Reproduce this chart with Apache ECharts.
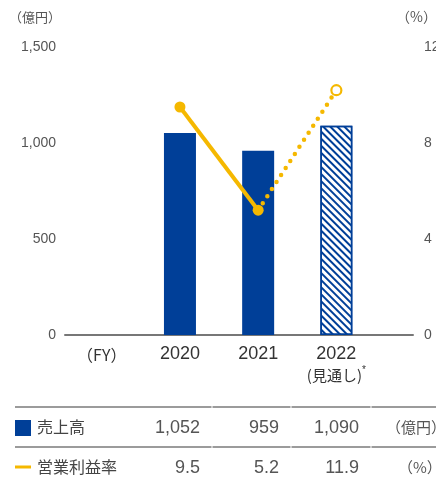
<!DOCTYPE html>
<html><head><meta charset="utf-8">
<script src="https://cdn.jsdelivr.net/npm/echarts@6/dist/echarts.min.js"></script>
<style>html,body{margin:0;padding:0;background:#fff}#c{width:436px;height:482px}</style>
</head><body><div id="c"></div>
<script>
// ---- data ----
const categories = ['（FY）', '2020', '2021', '2022'];
const categoryNote = '(見通し)';
const salesValues = [1052, 959, 1090];          // 2020, 2021, 2022(forecast)
const marginValues = [9.5, 5.2, 10.2];           // plotted positions
const salesText = ['1,052', '959', '1,090'];
const marginText = ['9.5', '5.2', '11.9'];
const leftTicks = [0, 500, 1000, 1500];
const rightTicks = [0, 4, 8, 12];
const rowLabels = ['売上高', '営業利益率'];
const rowUnits = ['（億円）', '（%）'];

const NAVY = '#003f98', YELLOW = '#f5b800';
const FONT = '"Liberation Sans", "Noto Sans CJK JP", sans-serif';
const CJK = '"Noto Sans CJK JP", "Liberation Sans", sans-serif';

const chart = echarts.init(document.getElementById('c'), null, {renderer: 'canvas'});

const barData = salesValues.map((v, i) => {
  const item = {value: [i + 1, v]};
  if (i === 2) {
    item.itemStyle = {
      color: '#ffffff', borderColor: NAVY, borderWidth: 1.5,
      decal: {symbol: 'rect', symbolSize: 1, color: NAVY, dashArrayX: [1, 0], dashArrayY: [1.6, 3], rotation: Math.PI / 4}
    };
  }
  return item;
});

const solidData = [[1, marginValues[0]], [2, marginValues[1]]];
const dottedData = [
  {value: [2, marginValues[1]], symbol: 'none'},
  {value: [3, marginValues[2]], symbol: 'circle', symbolSize: 10,
   itemStyle: {color: '#ffffff', borderColor: YELLOW, borderWidth: 2.2}}
];

// table graphics
const colRight = [200, 279, 359];
const rowY = [427, 467];
const graphics = [];
const lineSegs = [[15, 211.5], [212.5, 290.5], [291.5, 370.5], [371.5, 436]];
[407, 447].forEach(y => lineSegs.forEach(s => graphics.push({
  type: 'line', shape: {x1: s[0], y1: y, x2: s[1], y2: y},
  style: {stroke: '#7a7a7a', lineWidth: 1.5}, silent: true
})));
graphics.push({type: 'rect', shape: {x: 15, y: 420, width: 16, height: 16}, style: {fill: NAVY}});
graphics.push({type: 'rect', shape: {x: 15, y: 465.5, width: 16, height: 3}, style: {fill: YELLOW}});
rowLabels.forEach((t, r) => graphics.push({
  type: 'text', x: 37, y: rowY[r],
  style: {text: t, font: '16px ' + CJK, fill: '#444', textVerticalAlign: 'middle', textAlign: 'left'}
}));
[salesText, marginText].forEach((arr, r) => arr.forEach((t, i) => graphics.push({
  type: 'text', x: colRight[i], y: rowY[r] + 1,
  style: {text: t, font: '18px ' + FONT, fill: '#555', textVerticalAlign: 'middle', textAlign: 'right'}
})));
graphics.push({type: 'text', x: 386, y: rowY[0], style: {text: rowUnits[0], font: '15px ' + CJK, fill: '#555', textVerticalAlign: 'middle'}});
graphics.push({type: 'text', x: 398, y: rowY[1], style: {text: rowUnits[1], font: '15px ' + CJK, fill: '#555', textVerticalAlign: 'middle'}});
// axis unit names
graphics.push({type: 'text', x: 9, y: 17, style: {text: '（億円）', font: '13px ' + CJK, fill: '#555', textVerticalAlign: 'middle'}});
graphics.push({type: 'text', x: 396, y: 17, style: {text: '（%）', font: '14px ' + CJK, fill: '#555', textVerticalAlign: 'middle'}});

const option = {
  animation: false,
  textStyle: {fontFamily: FONT},
  grid: {left: 65, right: 23, top: 47, bottom: 147, containLabel: false, outerBoundsMode: 'none'},
  xAxis: {
    type: 'value', min: -0.47, max: 3.98,
    axisLine: {show: true, lineStyle: {color: '#777', width: 2}},
    axisTick: {show: false},
    splitLine: {show: false},
    axisLabel: {
      customValues: [0, 1, 2, 3],
      margin: 9,
      color: '#333', fontSize: 18, fontFamily: FONT,
      formatter: v => {
        const i = Math.round(v);
        if (i === 0) return '{fy|' + categories[0] + '}';
        if (i === 3) return '{y|' + categories[3] + '}\n{n|' + categoryNote + '}{s|*}';
        return '{y|' + categories[i] + '}';
      },
      rich: {
        y: {fontSize: 18, fontFamily: FONT, color: '#333', lineHeight: 21},
        fy: {fontSize: 16, fontFamily: CJK, color: '#333', lineHeight: 21},
        n: {fontSize: 15, fontFamily: CJK, color: '#333', lineHeight: 20},
        s: {fontSize: 10, fontFamily: FONT, color: '#333', verticalAlign: 'top', lineHeight: 20}
      }
    }
  },
  yAxis: [
    {
      type: 'value', min: leftTicks[0], max: leftTicks[leftTicks.length - 1], interval: 500,
      axisLine: {show: false}, axisTick: {show: false}, splitLine: {show: false},
      axisLabel: {margin: 9, color: '#555', fontSize: 14, fontFamily: FONT,
        formatter: v => v.toLocaleString('en-US')}
    },
    {
      type: 'value', min: rightTicks[0], max: rightTicks[rightTicks.length - 1], interval: 4,
      axisLine: {show: false}, axisTick: {show: false}, splitLine: {show: false},
      axisLabel: {margin: 11, align: 'left', color: '#555', fontSize: 14, fontFamily: FONT}
    }
  ],
  series: [
    {type: 'bar', yAxisIndex: 0, barWidth: 32, data: barData, itemStyle: {color: NAVY}, z: 2},
    {type: 'line', yAxisIndex: 1, data: dottedData, z: 3,
     lineStyle: {color: YELLOW, width: 4.5, type: [0, 8.4], cap: 'round'},
     itemStyle: {color: YELLOW}},
    {type: 'line', yAxisIndex: 1, data: solidData, z: 4, symbol: 'circle', symbolSize: 11,
     lineStyle: {color: YELLOW, width: 4}, itemStyle: {color: YELLOW}}
  ],
  graphic: graphics
};
chart.setOption(option);
</script></body></html>
